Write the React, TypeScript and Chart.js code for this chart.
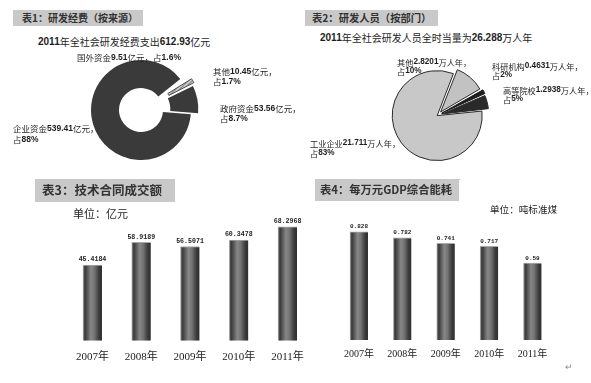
import React, { useEffect, useRef } from "react";
import { Chart, registerables } from "chart.js";
Chart.register(...registerables);

// ---------- data ----------
const fundSources = ["企业资金", "国外资金", "其他", "政府资金"];
const fundValues = [539.41, 9.51, 10.45, 53.56];
const fundShares = ["88%", "1.6%", "1.7%", "8.7%"];
const fundTotal = "612.93";

const staffSectors = ["工业企业", "其他", "科研机构", "高等院校"];
const staffValues = [21.711, 2.8201, 0.4631, 1.2938];
const staffShares = ["83%", "10%", "2%", "5%"];
const staffTotal = "26.288";

const years = ["2007年", "2008年", "2009年", "2010年", "2011年"];
const contractValues = [45.4184, 58.9189, 56.5071, 60.3478, 68.2968];
const energyValues = [0.828, 0.782, 0.741, 0.717, 0.59];

const CJK = '"Noto Sans CJK SC", "Noto Sans", sans-serif';
const NUM = '"Liberation Sans", Arial, sans-serif';

function hatchPattern(): CanvasPattern | string {
  const c = document.createElement("canvas");
  c.width = 4;
  c.height = 4;
  const g = c.getContext("2d");
  if (!g) return "#bbbbbb";
  g.fillStyle = "#d4d4d4";
  g.fillRect(0, 0, 4, 4);
  g.strokeStyle = "#555555";
  g.lineWidth = 1;
  g.beginPath();
  g.moveTo(0, 4);
  g.lineTo(4, 0);
  g.stroke();
  return g.createPattern(c, "repeat") || "#bbbbbb";
}

type PieProps = {
  left: number;
  top: number;
  size: number;
  labels: string[];
  values: number[];
  colors: () => any[];
  borderColors: string[];
  borderWidths: number[];
  offsets: number[];
  rotation: number;
  radius: number;
  cutout: string | number;
};

function PieChart(p: PieProps) {
  const ref = useRef<HTMLCanvasElement>(null);
  useEffect(() => {
    const cv = ref.current!;
    const chart = new Chart(cv, {
      type: "doughnut",
      data: {
        labels: p.labels,
        datasets: [
          {
            data: p.values,
            backgroundColor: p.colors(),
            borderColor: p.borderColors,
            borderWidth: p.borderWidths,
            offset: p.offsets,
            rotation: p.rotation,
            radius: p.radius,
            cutout: p.cutout,
          } as any,
        ],
      },
      options: {
        responsive: false,
        animation: false,
        events: [],
        layout: { padding: 0 },
        plugins: { legend: { display: false }, tooltip: { enabled: false } },
      },
    });
    return () => chart.destroy();
  }, []);
  return (
    <canvas
      ref={ref}
      width={p.size}
      height={p.size}
      style={{ position: "absolute", left: p.left, top: p.top, width: p.size, height: p.size }}
    />
  );
}

type BarProps = {
  left: number;
  top: number;
  width: number;
  height: number;
  padding: { left: number; right: number; top: number; bottom: number };
  values: number[];
  max: number;
  thickness: number;
  fmt: (v: number) => string;
  labelY: number;
  labelFont: string;
  valueFont: string;
};

function BarChart(p: BarProps) {
  const ref = useRef<HTMLCanvasElement>(null);
  useEffect(() => {
    const labelsPlugin = {
      id: "barLabels",
      afterDatasetsDraw(chart: any) {
        const ctx = chart.ctx;
        const meta = chart.getDatasetMeta(0);
        ctx.save();
        ctx.textAlign = "center";
        meta.data.forEach((bar: any, i: number) => {
          ctx.fillStyle = "#222";
          ctx.font = p.valueFont;
          ctx.textBaseline = "bottom";
          ctx.fillText(p.fmt(p.values[i]), bar.x, bar.y - 2);
          ctx.font = p.labelFont;
          ctx.textBaseline = "middle";
          ctx.fillText(years[i], bar.x, p.labelY - p.top);
        });
        ctx.restore();
      },
    };
    const chart = new Chart(ref.current!, {
      type: "bar",
      data: {
        labels: years,
        datasets: [
          {
            data: p.values,
            barThickness: p.thickness,
            borderColor: "#a8a8a8",
            borderWidth: { top: 1, left: 1, right: 0, bottom: 0 },
            borderSkipped: false,
            backgroundColor: (c: any) => {
              const ch = c.chart;
              const xs = ch.scales && ch.scales.x;
              if (!xs || typeof c.dataIndex !== "number") return "#555";
              const x = xs.getPixelForValue(c.dataIndex);
              if (!Number.isFinite(x)) return "#555";
              const w = p.thickness;
              const g = ch.ctx.createLinearGradient(x - w / 2, 0, x + w / 2, 0);
              g.addColorStop(0, "#5a5a5a");
              g.addColorStop(0.12, "#3c3c3c");
              g.addColorStop(0.42, "#878787");
              g.addColorStop(0.6, "#737373");
              g.addColorStop(0.85, "#3a3a3a");
              g.addColorStop(1, "#2e2e2e");
              return g;
            },
          } as any,
        ],
      },
      options: {
        responsive: false,
        animation: false,
        events: [],
        layout: { padding: p.padding },
        plugins: { legend: { display: false }, tooltip: { enabled: false } },
        scales: {
          x: { display: false, offset: true },
          y: { display: false, min: 0, max: p.max },
        },
      },
      plugins: [labelsPlugin],
    });
    return () => chart.destroy();
  }, []);
  return (
    <canvas
      ref={ref}
      width={p.width}
      height={p.height}
      style={{ position: "absolute", left: p.left, top: p.top, width: p.width, height: p.height }}
    />
  );
}

function Rich({ text }: { text: string }) {
  const parts = text.split(/([0-9][0-9.%]*)/);
  return (
    <>
      {parts.map((s, i) =>
        /[0-9]/.test(s) ? (
          <b key={i} style={{ fontFamily: NUM, fontWeight: 700 }}>
            {s}
          </b>
        ) : (
          <span key={i}>{s}</span>
        )
      )}
    </>
  );
}

function Label(props: {
  x: number;
  cy: number;
  size: number;
  text: string;
  weight?: number;
  color?: string;
  rich?: boolean;
}) {
  const { x, cy, size, text, weight = 400, color = "#1e1e1e", rich = true } = props;
  return (
    <div
      style={{
        position: "absolute",
        left: x,
        top: cy - size,
        height: size * 2,
        display: "flex",
        alignItems: "center",
        whiteSpace: "nowrap",
        fontFamily: CJK,
        fontSize: size,
        fontWeight: weight,
        color,
        lineHeight: 1,
      }}
    >
      {rich ? <Rich text={text} /> : text}
    </div>
  );
}

function TitleBox(props: { x: number; y: number; w: number; h: number; tx: number; size: number; text: string }) {
  return (
    <>
      <div
        style={{
          position: "absolute",
          left: props.x,
          top: props.y,
          width: props.w,
          height: props.h,
          background: "#c9c9c9",
        }}
      />
      <Label x={props.tx} cy={props.y + props.h / 2} size={props.size} text={props.text} weight={700} color="#333" rich={false} />
    </>
  );
}

function HLine(props: { x1: number; x2: number; y: number }) {
  return (
    <div
      style={{
        position: "absolute",
        left: props.x1,
        top: props.y,
        width: props.x2 - props.x1,
        height: 0,
        borderTop: "1px solid #b8b8b8",
      }}
    />
  );
}

export default function App() {
  const fundLine = (i: number) => `${fundSources[i]}${fundValues[i]}亿元，`;
  const staffLine = (i: number) => `${staffSectors[i]}${staffValues[i]}万人年，`;
  return (
    <div
      style={{
        position: "fixed",
        left: 0,
        top: 0,
        width: 591,
        height: 383,
        background: "#ffffff",
        overflow: "hidden",
      }}
    >
      {/* Panel 1 */}
      <TitleBox x={13} y={10} w={130} h={16} tx={22} size={10} text="表1：研发经费（按来源）" />
      <Label x={38} cy={42} size={10} text={`2011年全社会研发经费支出${fundTotal}亿元`} />
      <PieChart
        left={61}
        top={30}
        size={160}
        labels={fundSources}
        values={fundValues}
        colors={() => ["#3a3a3a", "#ffffff", hatchPattern(), "#3a3a3a"]}
        borderColors={["#3a3a3a", "#ffffff", "#4a4a4a", "#3a3a3a"]}
        borderWidths={[0, 0, 1, 0]}
        offsets={[0, 20, 20, 20]}
        rotation={95}
        radius={50}
        cutout="44%"
      />
      <Label x={77} cy={57.5} size={8.5} text={`${fundSources[1]}${fundValues[1]}亿元，占${fundShares[1]}`} />
      <Label x={213} cy={71} size={8.5} text={fundLine(2)} />
      <Label x={213} cy={81} size={8.5} text={`占${fundShares[2]}`} />
      <Label x={220} cy={108.5} size={8.5} text={fundLine(3)} />
      <Label x={220} cy={118.5} size={8.5} text={`占${fundShares[3]}`} />
      <Label x={13} cy={128.5} size={8.5} text={fundLine(0)} />
      <Label x={13} cy={139.5} size={8.5} text={`占${fundShares[0]}`} />
      <HLine x1={43} x2={175} y={179} />

      {/* Panel 2 */}
      <TitleBox x={305} y={10} w={133} h={15.5} tx={312} size={10.3} text="表2：研发人员（按部门）" />
      <Label x={320} cy={38} size={10} text={`2011年全社会研发人员全时当量为${staffTotal}万人年`} />
      <PieChart
        left={358}
        top={35}
        size={160}
        labels={staffSectors}
        values={staffValues}
        colors={() => ["#c8c8c8", "#c2c2c2", "#1e1e1e", "#2a2a2a"]}
        borderColors={["#2a2a2a", "#2a2a2a", "#1e1e1e", "#2a2a2a"]}
        borderWidths={[1, 1, 1, 1]}
        offsets={[4, 16, 16, 16]}
        rotation={84}
        radius={44}
        cutout={0}
      />
      <Label x={397} cy={62} size={8.2} text={staffLine(1)} />
      <Label x={397} cy={71} size={8.2} text={`占${staffShares[1]}`} />
      <Label x={492} cy={66.5} size={8.2} text={staffLine(2)} />
      <Label x={492} cy={75.5} size={8.2} text={`占${staffShares[2]}`} />
      <Label x={503} cy={90} size={8.2} text={staffLine(3)} />
      <Label x={503} cy={99.5} size={8.2} text={`占${staffShares[3]}`} />
      <Label x={310} cy={143} size={8.2} text={staffLine(0)} />
      <Label x={310} cy={153.5} size={8.2} text={`占${staffShares[0]}`} />
      <HLine x1={315} x2={460} y={179} />

      {/* Panel 3 */}
      <TitleBox x={35} y={179} w={140} h={23} tx={42} size={12.5} text="表3：技术合同成交额" />
      <Label x={73} cy={213} size={11} text="单位：亿元" rich={false} />
      <BarChart
        left={40}
        top={200}
        width={290}
        height={175}
        padding={{ left: 28.1, right: 18.1, top: 7.3, bottom: 34.3 }}
        values={contractValues}
        max={80}
        thickness={19}
        fmt={(v) => v.toFixed(4)}
        labelY={357}
        labelFont={'11px "Liberation Serif", "Noto Sans CJK SC", serif'}
        valueFont={'bold 6.6px "Liberation Mono", "DejaVu Sans Mono", monospace'}
      />

      {/* Panel 4 */}
      <TitleBox x={315} y={179} w={144} h={22} tx={320} size={11.3} text="表4：每万元GDP综合能耗" />
      <Label x={490} cy={210} size={9.6} text="单位：吨标准煤" rich={false} />
      <BarChart
        left={310}
        top={200}
        width={270}
        height={175}
        padding={{ left: 27.3, right: 25.8, top: 9.5, bottom: 35 }}
        values={energyValues}
        max={1}
        thickness={18}
        fmt={(v) => String(v)}
        labelY={354}
        labelFont={'10px "Liberation Serif", "Noto Sans CJK SC", serif'}
        valueFont={'bold 6px "Liberation Mono", "DejaVu Sans Mono", monospace'}
      />
      <Label x={565} cy={366} size={9} text="↵" color="#888" rich={false} />
    </div>
  );
}
